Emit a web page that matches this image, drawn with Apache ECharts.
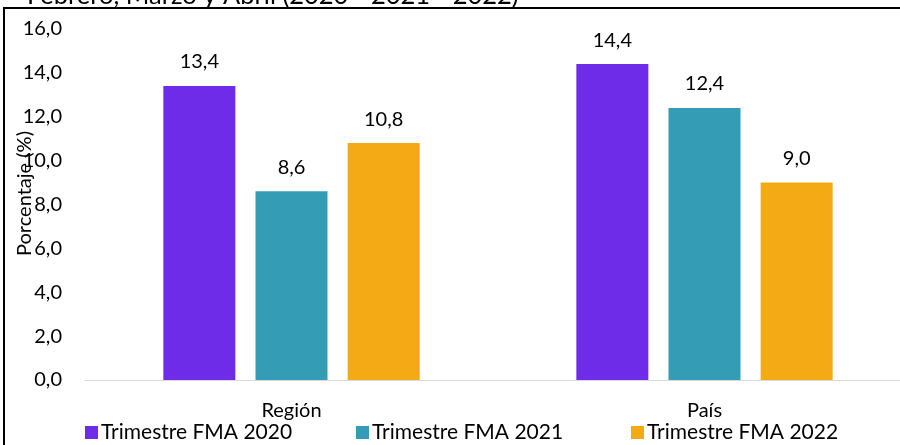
<!DOCTYPE html>
<html><head><meta charset="utf-8">
<script src="https://cdn.jsdelivr.net/npm/echarts@6/dist/echarts.min.js"></script>
<style>html,body{margin:0;padding:0;background:#fff}#c{width:900px;height:445px}</style>
</head><body><div id="c"></div>
<script>
const categories = ['Región', 'País'];
const seriesNames = ['Trimestre FMA 2020', 'Trimestre FMA 2021', 'Trimestre FMA 2022'];
const fma2020 = [13.4, 14.4];
const fma2021 = [8.6, 12.4];
const fma2022 = [10.8, 9.0];
const colors = ['#6f2ce8', '#349cb4', '#f4aa14'];
const titleText = 'Febrero, Marzo y Abril (2020 - 2021 - 2022)';
const yAxisName = 'Porcentaje (%)';

const FONT = 'Lato';
const fmt = v => v.toFixed(1).replace('.', ',');
const values = [fma2020, fma2021, fma2022];
const chart = echarts.init(document.getElementById('c'), null, {renderer: 'canvas'});
const legendLefts = [85, 356, 631];
chart.setOption({
  animation: false,
  textStyle: {fontFamily: FONT},
  title: {text: titleText, left: 22, top: -22, padding: 5, textStyle: {fontFamily: FONT, fontSize: 25.5, fontWeight: 'normal', color: '#000'}},
  graphic: [{type: 'rect', shape: {x: 4, y: 8, width: 910, height: 460}, style: {fill: 'none', stroke: '#000', lineWidth: 2}, silent: true, z: 100}],
  legend: seriesNames.map((n, i) => ({
    data: [n], left: legendLefts[i], top: 422, padding: 0, itemWidth: 13, itemHeight: 13, itemGap: 0,
    icon: 'rect', textStyle: {fontFamily: FONT, fontSize: 21, color: '#000', padding: [0, 0, 0, -2]}
  })),
  grid: {left: 85, right: -11, top: 29, bottom: 65, containLabel: false, outerBoundsMode: 'none'},
  xAxis: {
    type: 'category', data: categories,
    axisLine: {lineStyle: {color: '#d9d9d9', width: 1}},
    axisTick: {show: false},
    axisLabel: {fontFamily: FONT, fontSize: 20, color: '#000', margin: 21}
  },
  yAxis: {
    type: 'value', min: 0, max: 16, interval: 2,
    name: yAxisName, nameLocation: 'middle', nameGap: 50, nameRotate: 90, nameMoveOverlap: false,
    nameTextStyle: {fontFamily: FONT, fontSize: 20, color: '#000', padding: [0, 0, 0, 22]},
    axisLine: {show: false}, axisTick: {show: false}, splitLine: {show: false},
    axisLabel: {fontFamily: FONT, fontSize: 20, color: '#000', margin: 23, formatter: fmt}
  },
  series: seriesNames.map((n, i) => ({
    name: n, type: 'bar', data: values[i], barWidth: 72, barGap: '28%',
    itemStyle: {color: colors[i]},
    label: {show: true, position: 'top', distance: 14, fontFamily: FONT, fontSize: 20, color: '#000', formatter: p => fmt(p.value)}
  }))
});
</script></body></html>
